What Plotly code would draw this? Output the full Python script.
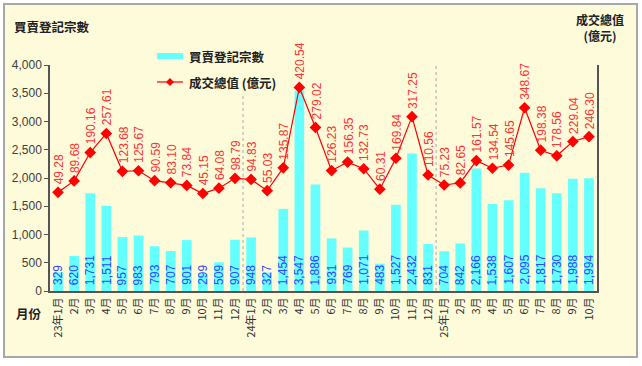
import plotly.graph_objects as go

# ---------------- data ----------------
month_labels = ["23年1月", "2月", "3月", "4月", "5月", "6月", "7月", "8月", "9月", "10月", "11月", "12月",
                "24年1月", "2月", "3月", "4月", "5月", "6月", "7月", "8月", "9月", "10月", "11月", "12月",
                "25年1月", "2月", "3月", "4月", "5月", "6月", "7月", "8月", "9月", "10月"]
registrations = [329, 620, 1731, 1511, 957, 983, 793, 707, 901, 299, 509, 907,
                 948, 327, 1454, 3547, 1886, 931, 769, 1071, 483, 1527, 2432, 831,
                 704, 842, 2166, 1538, 1607, 2095, 1817, 1730, 1988, 1994]
total_value = [49.28, 89.68, 190.16, 257.61, 123.68, 125.67, 90.59, 83.10, 73.84, 45.15, 64.08, 98.79,
               94.83, 55.03, 135.87, 420.54, 279.02, 126.23, 156.35, 132.73, 60.31, 169.84, 317.25, 110.56,
               75.23, 82.65, 161.57, 134.54, 145.65, 348.67, 198.38, 178.56, 229.04, 246.30]
value_labels = ["49.28", "89.68", "190.16", "257.61", "123.68", "125.67", "90.59", "83.10", "73.84", "45.15", "64.08", "98.79",
                "94.83", "55.03", "135.87", "420.54", "279.02", "126.23", "156.35", "132.73", "60.31", "169.84", "317.25", "110.56",
                "75.23", "82.65", "161.57", "134.54", "145.65", "348.67", "198.38", "178.56", "229.04", "246.30"]
left_ticks = [0, 500, 1000, 1500, 2000, 2500, 3000, 3500, 4000]
year_breaks = [11.5, 23.5]
series_names = ["買賣登記宗數", "成交總值 (億元)"]

# ---------------- layout helpers ----------------
W, H = 642, 366
L, R, T, B = 50, 45, 65, 75
PW, PH = W - L - R, H - T - B


def X(px):
    return (px - L) / PW


def Y(py):
    return (H - B - py) / PH


CJK = "Noto Sans CJK TC, Liberation Sans, sans-serif"
NUM = "Liberation Sans, Arial, sans-serif"
x_idx = list(range(len(month_labels)))

fig = go.Figure()
fig.add_trace(go.Bar(
    x=x_idx, y=registrations, name=series_names[0],
    marker=dict(color="#66FFFF", line=dict(width=0)), width=0.6,
    showlegend=False, hoverinfo="y"))
fig.add_trace(go.Scatter(
    x=x_idx, y=total_value, name=series_names[1], yaxis="y2", mode="lines+markers",
    line=dict(color="#FF0000", width=1.2),
    marker=dict(symbol="diamond", size=9, color="#FF0000"),
    showlegend=False))

annotations = []
for i, v in enumerate(registrations):
    annotations.append(dict(x=i, y=0, xref="x", yref="y", text=f"{v:,}", textangle=-90,
                            showarrow=False, xanchor="center", yanchor="bottom", yshift=4,
                            font=dict(family=NUM, size=12, color="#3348FF")))
for i, (v, t) in enumerate(zip(total_value, value_labels)):
    annotations.append(dict(x=i, y=v, xref="x", yref="y2", text=t, textangle=-90,
                            showarrow=False, xanchor="center", yanchor="bottom", yshift=6, xshift=1,
                            font=dict(family=NUM, size=12, color="#FF3333")))

# titles & legend text
annotations += [
    dict(x=X(12), y=Y(26), xref="paper", yref="paper", text="<b>買賣登記宗數</b>", showarrow=False,
         xanchor="left", yanchor="middle", font=dict(family=CJK, size=12.5, color="#222")),
    dict(x=X(600), y=Y(10), xref="paper", yref="paper", text="<b>成交總值<br>(億元)</b>", showarrow=False,
         xanchor="center", yanchor="top", align="center", borderpad=0,
         font=dict(family=CJK, size=12, color="#222")),
    dict(x=X(14), y=Y(313), xref="paper", yref="paper", text="<b>月份</b>", showarrow=False,
         xanchor="left", yanchor="middle", font=dict(family=CJK, size=12.5, color="#222")),
    dict(x=X(187), y=Y(56), xref="paper", yref="paper", text="<b>" + series_names[0] + "</b>", showarrow=False,
         xanchor="left", yanchor="middle", font=dict(family=CJK, size=12.5, color="#222")),
    dict(x=X(187), y=Y(82), xref="paper", yref="paper", text="<b>" + series_names[1] + "</b>", showarrow=False,
         xanchor="left", yanchor="middle", font=dict(family=CJK, size=12.5, color="#222")),
]

shapes = [
    # outer frame
    dict(type="rect", xref="paper", yref="paper", x0=X(4), x1=X(637), y0=Y(357), y1=Y(4),
         fillcolor="#FDFBDA", line=dict(color="#A8A8A8", width=2), layer="below"),
    # legend swatches
    dict(type="line", xref="paper", yref="paper", x0=X(157), x1=X(183), y0=Y(56), y1=Y(56),
         line=dict(color="#66FFFF", width=6)),
    dict(type="line", xref="paper", yref="paper", x0=X(157), x1=X(183), y0=Y(82), y1=Y(82),
         line=dict(color="#FF0000", width=1.2)),
    dict(type="path", xref="paper", yref="paper",
         path=f"M {X(170)},{Y(78)} L {X(174)},{Y(82)} L {X(170)},{Y(86)} L {X(166)},{Y(82)} Z",
         fillcolor="#FF0000", line=dict(color="#FF0000", width=0)),
]
# year separators
for xb, top in zip(year_breaks, [3450, 4000]):
    shapes.append(dict(type="line", xref="x", yref="y", x0=xb, x1=xb, y0=0, y1=top,
                       line=dict(color="#AAAAAA", width=1, dash="dot"), layer="below"))

fig.update_layout(
    width=W, height=H,
    margin=dict(l=L, r=R, t=T, b=B),
    paper_bgcolor="white", plot_bgcolor="rgba(0,0,0,0)",
    showlegend=False, bargap=0.4,
    xaxis=dict(range=[-0.5, len(month_labels) - 0.5], tickmode="array", tickvals=x_idx,
               ticktext=month_labels, tickangle=-90, showgrid=False, zeroline=False,
               showline=True, linecolor="#555555", linewidth=2, ticks="",
               tickfont=dict(family=CJK, size=11, color="#333")),
    yaxis=dict(range=[0, 4000], tickmode="array", tickvals=left_ticks,
               ticktext=[f"{v:,}" for v in left_ticks], showgrid=False, zeroline=False,
               showline=True, linecolor="#555555", linewidth=1.5, ticks="outside", ticklen=4,
               tickcolor="#555555", tickfont=dict(family=NUM, size=12, color="#404040")),
    yaxis2=dict(range=[-300, 500], overlaying="y", side="right", showgrid=False, zeroline=False,
                showticklabels=False, showline=True, linecolor="#555555", linewidth=1.5, ticks=""),
    annotations=annotations, shapes=shapes,
)

fig.write_html("out.html", config={"displayModeBar": False})

# remove default browser body margin so the 642x366 figure fills the window exactly
with open("out.html", "r", encoding="utf-8") as f:
    html = f.read()
html = html.replace("<body>", '<body style="margin:0;padding:0;overflow:hidden">', 1)
with open("out.html", "w", encoding="utf-8") as f:
    f.write(html)
